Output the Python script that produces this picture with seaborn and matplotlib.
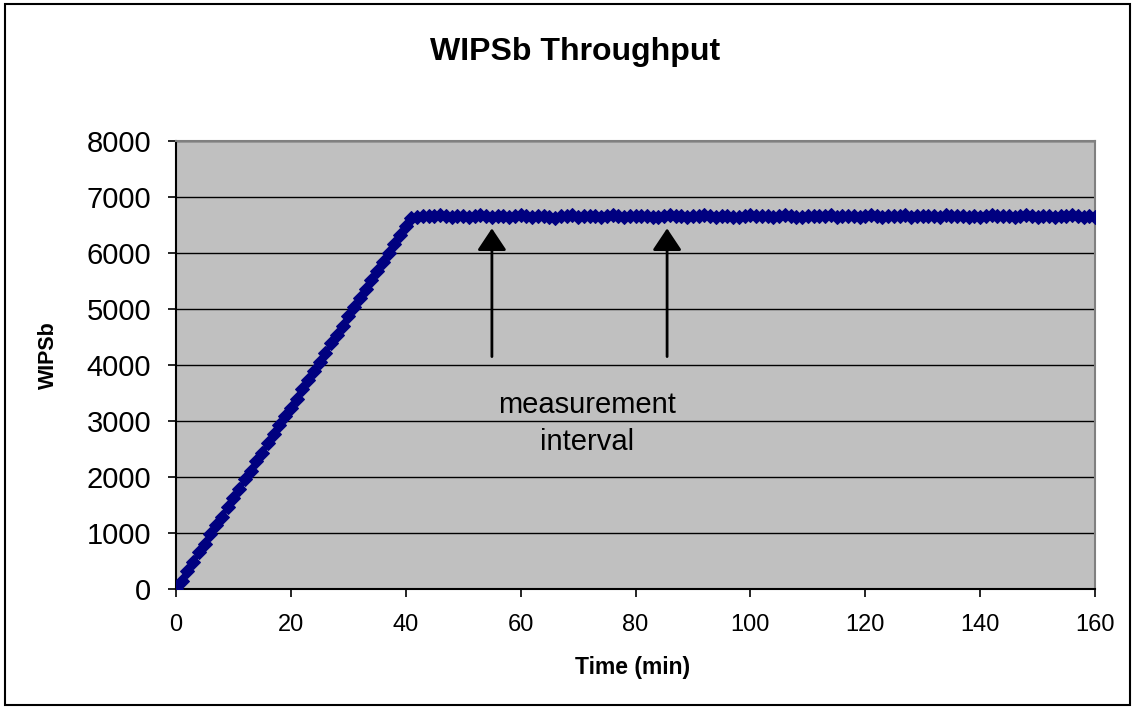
import matplotlib
matplotlib.use("Agg")
import matplotlib.pyplot as plt
import seaborn as sns
from matplotlib.patches import Rectangle

# time in minutes, one reading per minute
time_min = list(range(0, 161))

# ramp-up phase (0..41 min)
ramp = [0, 150, 330, 480, 660, 800, 980, 1140, 1290, 1470,
        1620, 1780, 1960, 2100, 2280, 2430, 2600, 2760, 2920, 3090,
        3240, 3400, 3580, 3730, 3900, 4060, 4210, 4390, 4540, 4700,
        4870, 5030, 5190, 5360, 5510, 5680, 5840, 6000, 6160, 6330,
        6490, 6620]

# steady state (42..160 min)
steady = [6650, 6665, 6660, 6655, 6670, 6660, 6650, 6665, 6660, 6645,
          6660, 6670, 6655, 6650, 6660, 6665, 6650, 6660, 6670, 6655,
          6640, 6660, 6665, 6650, 6630, 6655, 6660, 6670, 6650, 6660,
          6665, 6655, 6645, 6660, 6670, 6660, 6650, 6665, 6660, 6655,
          6660, 6640, 6650, 6665, 6670, 6655, 6660, 6650, 6665, 6660,
          6670, 6655, 6650, 6660, 6665, 6650, 6640, 6660, 6670, 6655,
          6660, 6665, 6650, 6655, 6670, 6660, 6650, 6645, 6660, 6665,
          6655, 6660, 6670, 6650, 6660, 6665, 6655, 6640, 6660, 6670,
          6660, 6650, 6665, 6655, 6660, 6670, 6645, 6660, 6655, 6665,
          6660, 6650, 6670, 6660, 6655, 6665, 6650, 6660, 6640, 6660,
          6670, 6655, 6660, 6665, 6650, 6660, 6670, 6655, 6645, 6660,
          6665, 6650, 6660, 6655, 6670, 6660, 6640, 6655, 6650]

wips = ramp + steady

# measurement interval markers
arrow_x = [55, 85.5]
arrow_base = 4150
arrow_tip = 6440

x_ticks = list(range(0, 161, 20))
y_ticks = list(range(0, 8001, 1000))

plt.rcParams['font.family'] = ['Liberation Sans', 'DejaVu Sans']

fig = plt.figure(figsize=(11.34, 7.09), dpi=100)
ax = fig.add_axes([176/1134, 1 - 589/709, (1095 - 176)/1134, (589 - 141)/709])
ax.set_facecolor('#C0C0C0')

sns.lineplot(x=time_min, y=wips, ax=ax, color='#000080', linewidth=3.5,
             marker='D', markersize=7.5, markeredgecolor='#000080', zorder=3)

for xa in arrow_x:
    ax.annotate('', xy=(xa, arrow_tip), xytext=(xa, arrow_base),
                arrowprops=dict(arrowstyle='-|>,head_length=0.45,head_width=0.3',
                                color='black', lw=2, mutation_scale=30,
                                shrinkA=0, shrinkB=0), zorder=4)

ax.text(71.5, 2960, "measurement\ninterval", ha='center', va='center',
        fontsize=21, linespacing=1.4)

ax.set_xlim(0, 160)
ax.set_ylim(0, 8000)
ax.set_xticks(x_ticks)
ax.set_yticks(y_ticks)
ax.yaxis.grid(True, color='black', linewidth=1.0)
ax.set_axisbelow(True)
ax.tick_params(axis='both', direction='out', length=6, width=1.2,
               labelsize=21, colors='black')
ax.tick_params(axis='y', pad=12)
ax.tick_params(axis='x', pad=12, labelsize=17)

for side in ['left', 'bottom']:
    ax.spines[side].set_color('black')
    ax.spines[side].set_linewidth(1.5)
for side in ['top', 'right']:
    ax.spines[side].set_color('#808080')
    ax.spines[side].set_linewidth(1.5)

ax.set_xlabel("Time (min)", fontsize=16.5, fontweight='bold')
ax.xaxis.set_label_coords((633 - 176)/919, -(656 - 589)/448)
ax.set_ylabel("WIPSb", fontsize=15.5, fontweight='bold')
ax.yaxis.set_label_coords(-(176 - 59)/919, (589 - 355)/448)
fig.text(575/1134, 1 - 52/709, "WIPSb Throughput", ha='center', va='center',
         fontsize=23, fontweight='bold')

fig.patches.append(Rectangle((5/1134, 4/709), 1125/1134, 701/709,
                             transform=fig.transFigure, fill=False,
                             edgecolor='black', linewidth=1.5))

fig.savefig("out.png", dpi=100)
